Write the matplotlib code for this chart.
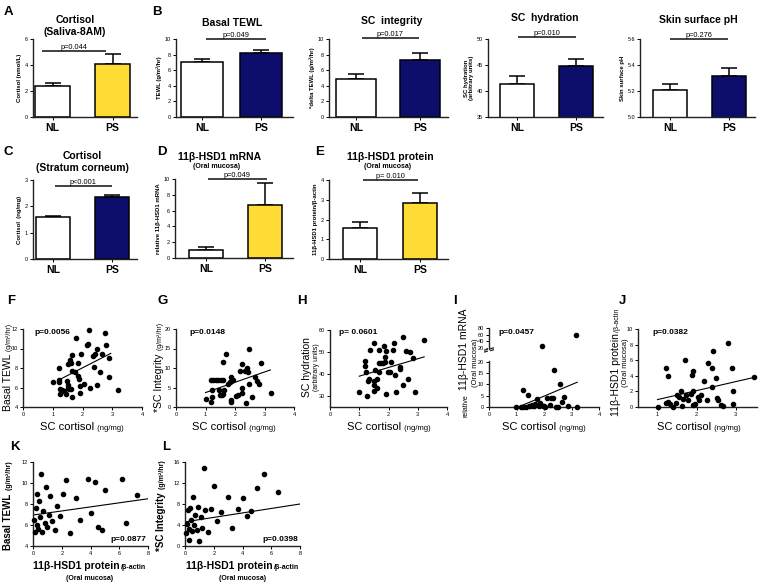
import numpy as np
import matplotlib
matplotlib.use("Agg")
import matplotlib.pyplot as plt

plt.rcParams['font.family'] = ['Liberation Sans', 'DejaVu Sans']

W, H = 760, 586

# ---- bar chart data (mean, sem) ----
groups = ["NL", "PS"]
saliva_cortisol_mean = [2.4, 4.05]
saliva_cortisol_sem = [0.25, 0.8]
tewl_mean = [7.1, 8.2]
tewl_sem = [0.3, 0.4]
integrity_mean = [4.9, 7.3]
integrity_sem = [0.6, 0.9]
hydration_mean = [41.4, 44.9]
hydration_sem = [1.4, 1.3]
ph_mean = [5.205, 5.315]
ph_sem = [0.05, 0.065]
sc_cortisol_mean = [1.58, 2.35]
sc_cortisol_sem = [0.05, 0.09]
mrna_mean = [1.0, 6.7]
mrna_sem = [0.4, 2.8]
protein_mean = [1.55, 2.82]
protein_sem = [0.33, 0.51]

# ---- scatter data ----
f_x = [1.0, 1.2, 1.2, 1.22, 1.25, 1.25, 1.3, 1.38, 1.45, 1.48, 1.5, 1.5, 1.52, 1.55, 1.58,
       1.6, 1.62, 1.65, 1.65, 1.65, 1.75, 1.78, 1.85, 1.85, 1.88, 1.9, 1.9, 1.95, 2.05, 2.15,
       2.2, 2.22, 2.25, 2.35, 2.4, 2.42, 2.48, 2.5, 2.6, 2.65, 2.75, 2.8, 2.9, 2.88, 3.2]
f_y = [6.55, 8.0, 6.8, 6.6, 5.8, 5.3, 5.7, 5.6, 5.3, 6.7, 8.4, 6.3, 6.0, 5.8, 8.8,
       5.8, 8.5, 9.3, 7.7, 5.0, 7.6, 11.1, 8.5, 7.2, 6.9, 5.4, 6.2, 9.4, 6.4, 10.4,
       10.5, 11.9, 5.9, 9.2, 8.1, 9.4, 9.9, 6.3, 7.6, 9.4, 11.55, 10.4, 9.0, 7.1, 5.7]
f_fit_x = [1.22, 2.95]
f_fit_y = [6.8, 9.5]

g_x = [1.0, 1.19, 1.22, 1.21, 1.19, 1.27, 1.35, 1.43, 1.52, 1.6, 1.47, 1.49, 1.55, 1.6, 1.62,
       1.58, 1.7, 1.75, 1.83, 1.86, 1.88, 1.88, 1.85, 1.94, 2.03, 2.09, 2.17, 2.23, 2.24, 2.24,
       2.33, 2.4, 2.43, 2.36, 2.49, 2.49, 2.59, 2.68, 2.73, 2.82, 2.88, 3.21]
g_y = [2.1, 1.3, 2.5, 4.4, 7.0, 7.0, 7.0, 7.0, 7.0, 7.0, 4.3, 3.1, 3.0, 3.3, 4.3,
       11.5, 13.7, 5.9, 6.4, 7.6, 6.6, 1.9, 1.4, 7.0, 2.7, 3.0, 9.3, 11.0, 5.0, 3.6,
       9.3, 10.0, 8.9, 0.9, 14.8, 5.9, 2.6, 7.8, 6.7, 5.9, 11.2, 3.7]
g_fit_x = [1.0, 3.2]
g_fit_y = [3.7, 9.5]

h_x = [1.0, 1.21, 1.21, 1.23, 1.26, 1.29, 1.33, 1.37, 1.49, 1.49, 1.49, 1.51, 1.54, 1.6, 1.62,
       1.66, 1.67, 1.69, 1.75, 1.81, 1.83, 1.87, 1.87, 1.9, 1.9, 1.97, 2.06, 2.08, 2.14, 2.19,
       2.23, 2.26, 2.4, 2.4, 2.48, 2.48, 2.61, 2.66, 2.74, 2.83, 2.91, 3.22]
h_y = [31.7, 46.1, 43.8, 40.9, 29.8, 37.0, 37.6, 50.8, 54.3, 36.7, 35.1, 32.5, 41.7, 33.6, 37.6,
       44.8, 41.0, 51.0, 44.8, 45.0, 52.6, 45.3, 47.7, 50.3, 30.9, 41.0, 41.0, 45.3, 51.1, 53.9,
       39.6, 31.8, 42.5, 43.2, 56.7, 35.0, 50.5, 37.8, 50.0, 47.1, 31.7, 55.6]
h_fit_x = [1.0, 3.22]
h_fit_y = [39.0, 47.8]

i_x = [0.97, 1.18, 1.22, 1.25, 1.35, 1.43, 1.45, 1.5, 1.55, 1.6, 1.63, 1.68, 1.75, 1.8, 1.87,
       1.93, 1.96, 2.0, 2.05, 2.12, 2.2, 2.27, 2.33, 2.36, 2.42, 2.5, 2.58, 2.64, 2.74, 2.86,
       3.16, 3.21]
i_y = [0.0, 0.0, 7.7, 0.0, 0.1, 5.3, 0.3, 0.6, 1.0, 0.3, 0.5, 1.2, 3.5, 0.6, 1.8,
       25.0, 0.3, 0.6, 0.1, 4.1, 0.8, 4.0, 4.2, 16.3, 0.2, 0.0, 10.3, 2.4, 4.4, 0.6,
       60.0, 0.0]
i_fit_x = [1.18, 3.21]
i_fit_y = [0.6, 11.0]

j_x = [1.0, 1.23, 1.26, 1.23, 1.27, 1.32, 1.4, 1.48, 1.5, 1.55, 1.6, 1.63, 1.65, 1.7, 1.72,
       1.79, 1.85, 1.88, 1.9, 1.9, 1.92, 1.97, 2.03, 2.07, 2.12, 2.18, 2.26, 2.29, 2.39, 2.41,
       2.4, 2.5, 2.52, 2.54, 2.64, 2.69, 2.81, 2.9, 2.93, 2.94, 3.48]
j_y = [0.0, 5.0, 4.0, 0.55, 0.7, 0.35, 0.05, 0.5, 1.5, 1.3, 2.0, 0.1, 1.0, 6.0, 1.5,
       0.9, 1.7, 4.1, 4.6, 2.0, 0.25, 0.35, 1.3, 0.9, 1.5, 3.3, 0.9, 5.7, 2.6, 7.2,
       5.0, 3.7, 1.1, 0.9, 0.3, 0.1, 8.2, 5.0, 2.0, 0.35, 3.8]
j_fit_x = [1.0, 3.48]
j_fit_y = [0.95, 3.8]

k_x = [0.1, 0.15, 0.2, 0.25, 0.3, 0.35, 0.4, 0.5, 0.55, 0.6, 0.7, 0.8, 0.9, 1.0, 1.1,
       1.2, 1.3, 1.5, 1.7, 1.9, 2.1, 2.3, 2.6, 3.0, 3.3, 3.8, 4.0, 4.3, 4.5, 4.8,
       5.0, 6.2, 6.5, 7.2]
k_y = [6.5, 5.3, 7.6, 9.0, 6.0, 5.6, 8.3, 6.8, 10.9, 5.3, 7.3, 6.2, 9.6, 5.8, 7.0,
       8.8, 6.4, 5.5, 7.8, 6.9, 9.0, 10.3, 5.2, 8.6, 6.5, 10.4, 7.1, 10.1, 5.8, 5.5,
       9.3, 10.4, 6.2, 8.9]
k_fit_x = [0.0, 8.0]
k_fit_y = [6.95, 8.5]

l_x = [0.1, 0.15, 0.2, 0.25, 0.3, 0.35, 0.4, 0.5, 0.55, 0.6, 0.7, 0.8, 0.9, 1.0, 1.1,
       1.2, 1.3, 1.4, 1.6, 1.8, 2.0, 2.2, 2.5, 3.0, 3.3, 3.7, 4.0, 4.3, 4.6, 5.0,
       5.5, 6.5]
l_y = [2.5, 4.2, 6.8, 3.3, 1.2, 7.2, 5.0, 2.8, 9.3, 4.0, 6.0, 3.1, 7.4, 0.9, 5.6,
       3.4, 14.8, 6.9, 2.6, 7.0, 11.5, 4.8, 6.5, 9.3, 3.5, 7.0, 9.2, 5.7, 6.6, 11.0,
       13.7, 10.2]
l_fit_x = [0.0, 8.0]
l_fit_y = [4.6, 8.0]

NAVY = '#0d0d6b'
GOLD = '#ffdb35'


def rect(l, t, r, b):
    return [l / W, 1 - b / H, (r - l) / W, (b - t) / H]


def pt(x, y):
    return x / W, 1 - y / H


fig = plt.figure(figsize=(W / 100, H / 100), dpi=100)
fig.patch.set_facecolor('white')
renderer = fig.canvas.get_renderer()


def rich(x, y, parts, rot=0):
    # place text pieces of mixed size one after another, centred on x (or y if rotated)
    objs = [fig.text(0, 0, s, fontsize=fs, fontweight=fw, rotation=rot,
                     rotation_mode='anchor', ha='left', va='baseline')
            for s, fs, fw in parts]
    lens = []
    for t in objs:
        bb = t.get_window_extent(renderer)
        lens.append((bb.height if rot else bb.width) + 1.0)
    pos = -sum(lens) / 2
    for t, ln in zip(objs, lens):
        if rot:
            t.set_position(pt(x, y - pos))
        else:
            t.set_position(pt(x + pos, y))
        pos += ln


def style_axes(ax, tick_size=4):
    for s in ['top', 'right']:
        ax.spines[s].set_visible(False)
    for s in ['left', 'bottom']:
        ax.spines[s].set_linewidth(1.0)
        ax.spines[s].set_color('#222222')
    ax.tick_params(direction='out', length=2, width=0.7, labelsize=tick_size, pad=1.5)
    ax.set_facecolor('none')


# ---- bar panels ----
bar_panels = [
    dict(box=(33, 39, 137, 117), c=(52.5, 112.5), w=35, mean=saliva_cortisol_mean, sem=saliva_cortisol_sem,
         ylim=(0, 6), yt=[0, 2, 4, 6], yl='Cortisol (nmol/L)', col=GOLD, p='p=0.044', py=5.08, span=(-0.17, 0.89)),
    dict(box=(176, 39, 293, 117), c=(202, 261), w=42, mean=tewl_mean, sem=tewl_sem,
         ylim=(0, 10), yt=[0, 2, 4, 6, 8, 10], yl='TEWL (g/m²/hr)', col=NAVY, p='p=0.049', py=9.95, span=(0.07, 1.08)),
    dict(box=(329, 39, 448, 117), c=(356, 420), w=40, mean=integrity_mean, sem=integrity_sem,
         ylim=(0, 10), yt=[0, 2, 4, 6, 8, 10], yl='*delta TEWL (g/m²/hr)', col=NAVY, p='p=0.017', py=10.1, span=(0.09, 0.98)),
    dict(box=(488, 39, 603, 117), c=(517, 576), w=34, mean=hydration_mean, sem=hydration_sem,
         ylim=(35, 50), yt=[35, 40, 45, 50], yl='SC hydration\n(arbitrary units)', col=NAVY, p='p=0.010', py=50.4, span=(0.02, 1.0)),
    dict(box=(640, 39, 755, 117), c=(670, 729), w=34, mean=ph_mean, sem=ph_sem,
         ylim=(5.0, 5.6), yt=[5.0, 5.2, 5.4, 5.6], yl='Skin surface pH', col=NAVY, p='p=0.276', py=5.6, span=(0.0, 0.98)),
    dict(box=(33, 180, 137, 259), c=(53, 112), w=34, mean=sc_cortisol_mean, sem=sc_cortisol_sem,
         ylim=(0, 3), yt=[0, 1, 2, 3], yl='Cortisol  (ng/mg)', col=NAVY, p='p<0.001', py=2.77, span=(0.03, 1.0)),
    dict(box=(175, 179, 293, 258), c=(206, 265), w=34, mean=mrna_mean, sem=mrna_sem,
         ylim=(0, 10), yt=[0, 2, 4, 6, 8, 10], yl='relative 11β-HSD1 mRNA', col=GOLD, p='p=0.049', py=10.0, span=(0.03, 1.03)),
    dict(box=(329, 180, 448, 259), c=(360, 420), w=34, mean=protein_mean, sem=protein_sem,
         ylim=(0, 4), yt=[0, 1, 2, 3, 4], yl='11β-HSD1 protein/β-actin', col=GOLD, p='p= 0.010', py=4.0, span=(0.05, 0.97)),
]

for bp in bar_panels:
    l, t, r, b = bp['box']
    ax = fig.add_axes(rect(l, t, r, b))
    unit = bp['c'][1] - bp['c'][0]
    xs = np.arange(len(groups))
    ax.bar(xs, bp['mean'], width=bp['w'] / unit, color=['white', bp['col']],
           edgecolor='black', linewidth=1.1, zorder=2)
    ax.errorbar(xs, bp['mean'], yerr=[[0, 0], bp['sem']], fmt='none', ecolor='black',
                elinewidth=1.1, capsize=5.5, capthick=1.1, zorder=1)
    ax.set_xlim((l - bp['c'][0]) / unit, 1 + (r - bp['c'][1]) / unit)
    ax.set_ylim(*bp['ylim'])
    ax.set_yticks(bp['yt'])
    if bp['yt'][0] == 5.0:
        ax.set_yticklabels([f'{v:.1f}' for v in bp['yt']])
    ax.set_xticks(xs)
    ax.set_xticklabels(groups, fontsize=7.5, fontweight='bold')
    style_axes(ax)
    ax.tick_params(axis='x', labelsize=7.5, pad=2)
    ax.set_ylabel(bp['yl'], fontsize=4.3, fontweight='bold', labelpad=2, linespacing=1.0)
    ax.plot(bp['span'], [bp['py'], bp['py']], color='#333333', lw=1.3, clip_on=False, solid_capstyle='butt')
    ax.text(np.mean(bp['span']), bp['py'], bp['p'], ha='center', va='bottom', fontsize=5.3)

# titles for bar panels
titles = [
    (75, 20, 'Cortisol', 7.5), (75, 32, '(Saliva-8AM)', 7.5),
    (232, 23, 'Basal TEWL', 7.5), (392, 21, 'SC  integrity', 7.5),
    (545, 18, 'SC  hydration', 7.5), (698, 20, 'Skin surface pH', 7.5),
    (82, 156, 'Cortisol', 7.5), (82, 168, '(Stratum corneum)', 7.5),
    (220, 157, '11β-HSD1 mRNA', 7.5), (217, 166, '(Oral mucosa)', 5),
    (390, 157, '11β-HSD1 protein', 7.5), (388, 166, '(Oral mucosa)', 5),
]
for x, y, s, fs in titles:
    fig.text(*pt(x, y), s, ha='center', va='center', fontsize=fs, fontweight='bold')

letters = [('A', 8, 12), ('B', 157, 12), ('C', 8, 152), ('D', 162, 152), ('E', 320, 152),
           ('F', 11, 301), ('G', 163, 301), ('H', 302, 301), ('I', 455, 301), ('J', 622, 301),
           ('K', 15, 447), ('L', 166, 447)]
for s, x, y in letters:
    fig.text(*pt(x, y), s, ha='center', va='center', fontsize=9.5, fontweight='bold')


# ---- scatter panels ----
def scatter_axes(box, xs, ys, fx, fy, xlim, ylim, xt, yt):
    ax = fig.add_axes(rect(*box))
    ax.plot(xs, ys, 'o', color='black', markersize=3.0, clip_on=False, zorder=3)
    ax.plot(fx, fy, color='black', lw=0.8)
    ax.set_xlim(*xlim)
    ax.set_ylim(*ylim)
    ax.set_xticks(xt)
    ax.set_yticks(yt)
    style_axes(ax)
    return ax


def ptext(x, y, s):
    fig.text(*pt(x, y), s, fontsize=6, fontweight='bold', ha='left', va='center')


cort_label = [("SC cortisol", 8, 'normal'), (" (ng/mg)", 5.5, 'normal')]

ax = scatter_axes((23, 329, 142, 407), f_x, f_y, f_fit_x, f_fit_y, (0, 4), (4, 12), [0, 1, 2, 3, 4], [4, 6, 8, 10, 12])
ptext(34, 332, 'p=0.0056')
rich(82, 430, cort_label)
rich(11, 367, [("Basal TEWL", 7.5, 'normal'), (" (g/m²/hr)", 5, 'normal')], rot=90)

ax = scatter_axes((176, 329, 294, 407), g_x, g_y, g_fit_x, g_fit_y, (0, 4), (0, 20), [0, 1, 2, 3, 4], [0, 5, 10, 15, 20])
ptext(189, 332, 'p=0.0148')
rich(234, 430, cort_label)
rich(162, 367, [("*SC Integrity", 7.5, 'normal'), (" (g/m²/hr)", 5, 'normal')], rot=90)

ax = scatter_axes((330, 330, 447, 407), h_x, h_y, h_fit_x, h_fit_y, (0, 4), (25, 60), [0, 1, 2, 3, 4], [30, 40, 50, 60])
ptext(339, 333, 'p= 0.0601')
rich(389, 430, cort_label)
rich(310, 367, [("SC hydration", 7.5, 'normal')], rot=90)
rich(318, 367, [("(arbitrary units)", 5, 'normal')], rot=90)

# I: broken y axis
i_x_arr = np.array(i_x)
i_y_arr = np.array(i_y)
low = i_y_arr <= 20
ax = scatter_axes((489, 361, 599, 407), i_x_arr[low], i_y_arr[low], i_fit_x, i_fit_y, (0, 4), (0, 20.4),
                  [0, 1, 2, 3, 4], [0, 5, 10, 15, 20])
ptext(498, 332, 'p=0.0457')
ax_up = fig.add_axes(rect(489, 328, 599, 349))
ax_up.plot(i_x_arr[~low], i_y_arr[~low], 'o', color='black', markersize=3.0, clip_on=False)
ax_up.set_xlim(0, 4)
ax_up.set_ylim(16, 80)
ax_up.set_yticks([20, 40, 60, 80])
style_axes(ax_up)
ax_up.spines['bottom'].set_visible(False)
ax_up.set_xticks([])
for yy in (0.0, -0.09):
    ax_up.plot([-0.04, 0.04], [yy - 0.05, yy + 0.05], transform=ax_up.transAxes, color='#222222',
               lw=0.9, clip_on=False)
ax_up.plot([0, 0], [-0.09, 0.0], transform=ax_up.transAxes, color='white', lw=1.6, clip_on=False)
rich(544, 430, cort_label)
rich(467, 362, [("relative", 5, 'normal'), (" 11β-HSD1 mRNA", 7.5, 'normal')], rot=90)
rich(477, 362, [("(Oral mucosa)", 5.5, 'normal')], rot=90)

ax = scatter_axes((638, 329, 757, 407), j_x, j_y, j_fit_x, j_fit_y, (0.5, 3.55), (0, 10), [1, 2, 3], [0, 2, 4, 6, 8, 10])
ptext(652, 332, 'p=0.0382')
rich(699, 430, cort_label)
rich(619, 362, [("11β-HSD1 protein", 7.5, 'normal'), ("/β-actin", 5, 'normal')], rot=90)
rich(627, 362, [("(Oral mucosa)", 5.5, 'normal')], rot=90)

prot_label = [("11β-HSD1 protein", 7.5, 'bold'), ("/β-actin", 5, 'bold')]

ax = scatter_axes((33, 462, 148, 546), k_x, k_y, k_fit_x, k_fit_y, (0, 8), (4, 12), [0, 2, 4, 6, 8], [4, 6, 8, 10, 12])
ax.text(0.98, 0.04, 'p=0.0877', transform=ax.transAxes, fontsize=6, fontweight='bold', ha='right', va='bottom')
rich(90, 569, prot_label)
fig.text(*pt(90, 578), '(Oral mucosa)', ha='center', va='center', fontsize=5, fontweight='bold')
rich(11, 505, [("Basal TEWL", 7, 'bold'), (" (g/m²/hr)", 5, 'bold')], rot=90)

ax = scatter_axes((185, 462, 300, 546), l_x, l_y, l_fit_x, l_fit_y, (0, 8), (0, 16), [0, 2, 4, 6, 8], [0, 4, 8, 12, 16])
ax.text(0.98, 0.04, 'p=0.0398', transform=ax.transAxes, fontsize=6, fontweight='bold', ha='right', va='bottom')
rich(243, 569, prot_label)
fig.text(*pt(243, 578), '(Oral mucosa)', ha='center', va='center', fontsize=5, fontweight='bold')
rich(164, 505, [("*SC Integrity", 7, 'bold'), (" (g/m²/hr)", 5, 'bold')], rot=90)

fig.savefig('out.png', dpi=100)
